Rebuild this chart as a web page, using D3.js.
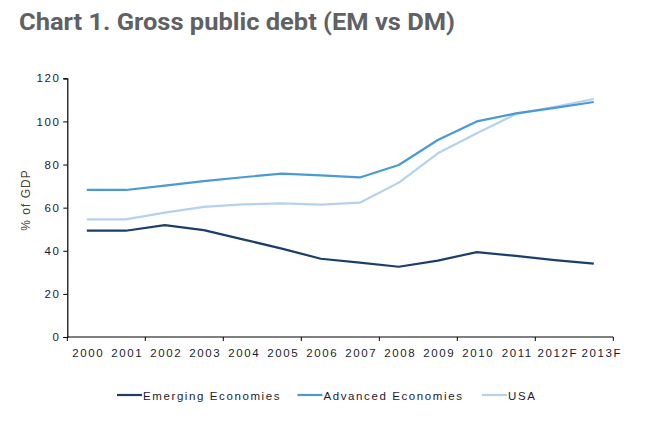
<!DOCTYPE html>
<html><head><meta charset="utf-8">
<script src="https://cdn.jsdelivr.net/npm/d3@7"></script>
<style>
body{margin:0;background:#fff;}
svg{display:block;font-family:"Liberation Sans",Arial,sans-serif;}
</style></head>
<body>
<svg id="c" width="655" height="421"></svg>
<script>
const years = ["2000","2001","2002","2003","2004","2005","2006","2007","2008","2009","2010","2011","2012F","2013F"];
const emerging = [49.3,49.3,51.9,49.6,45.3,41.0,36.3,34.5,32.6,35.4,39.4,37.6,35.7,34.0];
const advanced = [68.2,68.2,70.2,72.3,74.1,75.8,75.0,74.0,79.8,91.4,100.0,103.7,106.3,109.0];
const usa = [54.6,54.6,57.7,60.4,61.5,62.0,61.4,62.3,71.6,85.2,94.5,103.4,106.8,110.4];
const yTicks = [0,20,40,60,80,100,120];
const seriesNames = ["Emerging Economies","Advanced Economies","USA"];
const seriesColors = ["#1b3f68","#4a9ad6","#b6d1ee"];

const svg = d3.select("#c");
const pLeft = 67.3, pRight = 613.3, pTop = 78.3, pBottom = 337;

svg.append("text").attr("x",19).attr("y",30)
  .attr("font-family","Roboto, 'Liberation Sans', Arial, sans-serif")
  .attr("font-weight","bold").attr("font-size",24).attr("fill","#606165")
  .attr("textLength",436).attr("lengthAdjust","spacingAndGlyphs")
  .text("Chart 1. Gross public debt (EM vs DM)");

const x = d3.scaleBand().domain(years).range([pLeft,pRight]);
const y = d3.scaleLinear().domain([0,120]).range([pBottom,pTop]);

// y axis
const ya = svg.append("g").attr("transform",`translate(${pLeft},0)`)
  .call(d3.axisLeft(y).tickValues(yTicks).tickSize(4).tickPadding(3));
ya.select(".domain").attr("stroke","#000").attr("stroke-width",1.2);
ya.selectAll(".tick line").attr("stroke","#000");
ya.selectAll("text").attr("font-size",11.5).attr("letter-spacing","1.5px")
  .attr("fill","#1c1c2c").attr("font-family","'Liberation Sans',Arial,sans-serif");

// x axis
const xa = svg.append("g").attr("transform",`translate(0,${pBottom})`)
  .call(d3.axisBottom(x).tickSize(0).tickPadding(12));
xa.select(".domain").attr("stroke","#000").attr("stroke-width",1.2).attr("d",`M${pLeft},0H${pRight}`);
xa.selectAll("text").attr("font-size",11.5).attr("letter-spacing","1.6px")
  .attr("fill","#1c1c2c").attr("font-family","'Liberation Sans',Arial,sans-serif")
  .attr("dx",(d,i)=> i===years.length-1 ? 8 : (i===years.length-2 ? 3 : 1.5));
// tick marks every 2 categories
const tickPos = d3.range(0, years.length+1, 2).map(i => pLeft + i*x.step());
xa.selectAll(".xt").data(tickPos).enter().append("line")
  .attr("x1",d=>d).attr("x2",d=>d).attr("y1",0).attr("y2",4).attr("stroke","#000");

// y label
svg.append("text").attr("transform","translate(30,200) rotate(-90)")
  .attr("text-anchor","middle").attr("font-size",12).attr("letter-spacing","1px")
  .attr("fill","#4f4237").text("% of GDP");

const line = d3.line().x((d,i)=>x(years[i])+x.bandwidth()/2).y(d=>y(d));
const data = [emerging, advanced, usa];
[2,1,0].forEach(k=>{
  svg.append("path").datum(data[k]).attr("d",line).attr("fill","none")
    .attr("stroke",seriesColors[k]).attr("stroke-width",2.2).attr("stroke-linejoin","round");
});

// legend
const legX = [117, 297.5, 482];
seriesNames.forEach((n,k)=>{
  svg.append("line").attr("x1",legX[k]).attr("x2",legX[k]+25).attr("y1",395).attr("y2",395)
    .attr("stroke",seriesColors[k]).attr("stroke-width",2.2);
  svg.append("text").attr("x",legX[k]+26).attr("y",399.5).attr("font-size",11.5)
    .attr("letter-spacing","1.6px").attr("fill","#1c1c2c").text(n);
});
</script>
</body></html>
